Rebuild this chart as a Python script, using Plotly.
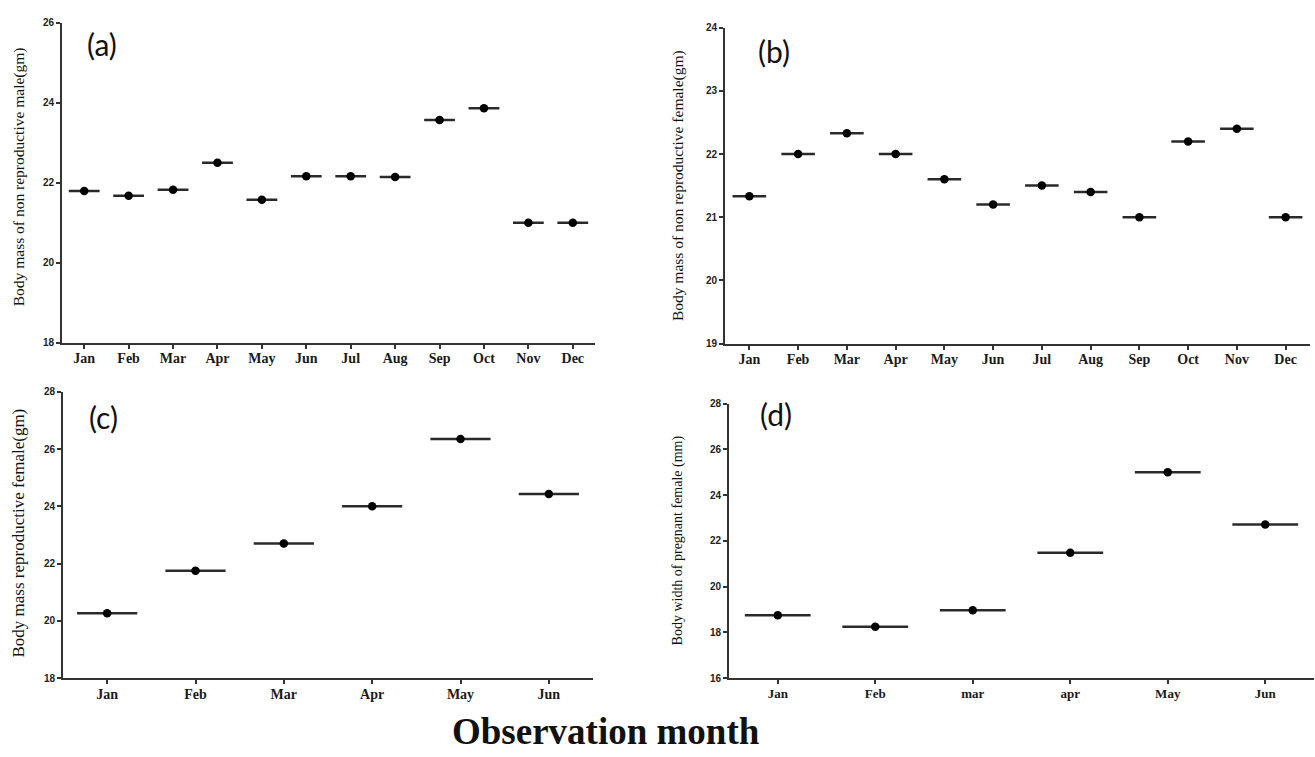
import plotly.graph_objects as go

W, H = 1315, 757

months12 = ["Jan", "Feb", "Mar", "Apr", "May", "Jun", "Jul", "Aug", "Sep", "Oct", "Nov", "Dec"]
months6_c = ["Jan", "Feb", "Mar", "Apr", "May", "Jun"]
months6_d = ["Jan", "Feb", "mar", "apr", "May", "Jun"]

male_nonrepro = [21.79, 21.67, 21.82, 22.50, 21.57, 22.16, 22.16, 22.14, 23.57, 23.86, 21.00, 21.00]
female_nonrepro = [21.33, 22.00, 22.33, 22.00, 21.60, 21.20, 21.50, 21.40, 21.00, 22.20, 22.40, 21.00]
female_repro = [20.27, 21.75, 22.70, 24.00, 26.35, 24.43]
pregnant_width = [18.75, 18.25, 18.97, 21.48, 25.00, 22.72]

ytitle_a = "Body mass of non reproductive male(gm)"
ytitle_b = "Body mass of non reproductive female(gm)"
ytitle_c = "Body mass reproductive female(gm)"
ytitle_d = "Body width of pregnant female (mm)"
xtitle = "Observation month"


def px_x(p):
    return p / W


def px_y(p):
    return 1 - p / H


panels = [
    dict(cats=months12, vals=male_nonrepro, xa="x", ya="y", xd=(62, 595), yd=(17, 342), yr=(18, 26), dt=2,
         ls=22, lab="(a)", labpos=(102, 39), yt=ytitle_a, ytpos=(19, 174), ytsize=15.5, xtsize=14),
    dict(cats=months12, vals=female_nonrepro, xa="x2", ya="y2", xd=(725, 1310), yd=(22, 343), yr=(19, 24), dt=1,
         ls=24, lab="(b)", labpos=(774, 46), yt=ytitle_b, ytpos=(678, 183), ytsize=15.5, xtsize=14),
    dict(cats=months6_c, vals=female_repro, xa="x3", ya="y3", xd=(63, 593), yd=(392, 683), yr=(18, 28), dt=2,
         ls=43, lab="(c)", labpos=(104, 418), yt=ytitle_c, ytpos=(19, 536), ytsize=17, xtsize=14),
    dict(cats=months6_d, vals=pregnant_width, xa="x4", ya="y4", xd=(729, 1314), yd=(404, 683), yr=(16, 28), dt=2,
         ls=47, lab="(d)", labpos=(776, 415), yt=ytitle_d, ytpos=(678, 543), ytsize=14, xtsize=13),
]

fig = go.Figure()
annotations = []
layout_axes = {}

for i, p in enumerate(panels):
    # horizontal mean line
    fig.add_trace(go.Scatter(
        x=p["cats"], y=p["vals"], xaxis=p["xa"], yaxis=p["ya"], mode="markers",
        marker=dict(symbol="line-ew", size=p["ls"], color="#222",
                    line=dict(width=2.5, color="#2a2a2a")),
        showlegend=False, hoverinfo="skip"))
    # mean point
    fig.add_trace(go.Scatter(
        x=p["cats"], y=p["vals"], xaxis=p["xa"], yaxis=p["ya"], mode="markers",
        marker=dict(symbol="circle", size=8.5, color="black"),
        showlegend=False))

    n = "" if i == 0 else str(i + 1)
    layout_axes["xaxis" + n] = dict(
        domain=[px_x(p["xd"][0]), px_x(p["xd"][1])],
        anchor="y" + n, type="category", categoryorder="array", categoryarray=p["cats"],
        range=[-0.5, len(p["cats"]) - 0.5],
        showline=True, linecolor="#333", linewidth=2, mirror=False,
        showgrid=False, zeroline=False,
        ticks="outside", ticklen=4, tickwidth=1.5, tickcolor="#333",
        ticklabelstandoff=-2,
        tickfont=dict(family="Liberation Serif", size=p["xtsize"], color="#1a1a1a", weight="bold"),
        fixedrange=True)
    layout_axes["yaxis" + n] = dict(
        domain=[px_y(p["yd"][1]), px_y(p["yd"][0])],
        anchor="x" + n, range=list(p["yr"]), dtick=p["dt"], tick0=0,
        showline=True, linecolor="#333", linewidth=2,
        showgrid=False, zeroline=False,
        ticks="outside", ticklen=4, tickwidth=1.5, tickcolor="#333",
        tickfont=dict(family="Liberation Sans", size=10, color="#222", weight="bold"),
        fixedrange=True)

    annotations.append(dict(
        text=p["lab"], xref="paper", yref="paper",
        x=px_x(p["labpos"][0]), y=px_y(p["labpos"][1]),
        xanchor="center", yanchor="middle", showarrow=False,
        font=dict(family="Lato", size=30, color="#111")))
    annotations.append(dict(
        text=p["yt"], xref="paper", yref="paper",
        x=px_x(p["ytpos"][0]), y=px_y(p["ytpos"][1]),
        xanchor="center", yanchor="middle", textangle=-90, showarrow=False,
        font=dict(family="Liberation Serif", size=p["ytsize"], color="#111")))

annotations.append(dict(
    text="<b>" + xtitle + "</b>", xref="paper", yref="paper",
    x=px_x(606), y=px_y(737), xanchor="center", yanchor="middle", showarrow=False,
    font=dict(family="Liberation Serif", size=37, color="#111")))

fig.update_layout(
    width=W, height=H, autosize=False,
    margin=dict(l=0, r=0, t=0, b=0),
    paper_bgcolor="white", plot_bgcolor="white",
    annotations=annotations,
    **layout_axes)

fig.write_html("out.html", config={"displayModeBar": False},
               post_script="document.body.style.margin='0';")
